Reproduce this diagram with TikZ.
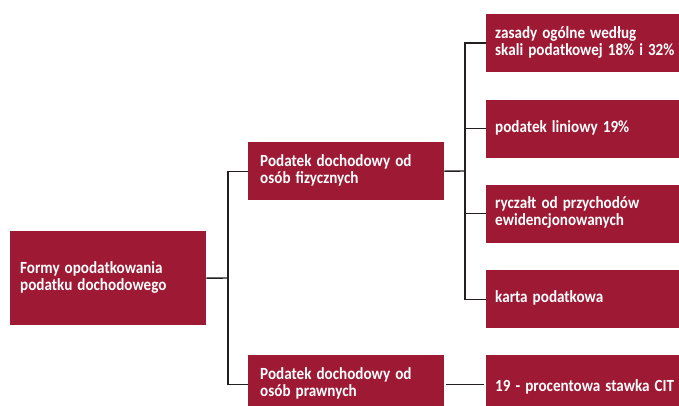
\documentclass[tikz,border=0pt]{standalone}
\usepackage{fontspec}
\usepackage{graphicx}
\setmainfont{Carlito}
\newcommand\bt[1]{\scalebox{0.89}[1]{\begin{tabular}{@{}l@{}}#1\end{tabular}}}
\definecolor{boxred}{RGB}{158,25,52}
\definecolor{linegray}{RGB}{35,31,32}
\tikzset{
  redbox/.style={fill=boxred, text=white, font=\bfseries\fontsize{17}{16}\selectfont,
    align=left, minimum height=58pt, inner ysep=0pt, anchor=north west},
  conn/.style={draw=linegray, line width=1.4pt}
}
\begin{document}
\begin{tikzpicture}[x=1pt,y=-1pt]
\useasboundingbox (0,0) rectangle (679,406);
\clip (0,0) rectangle (679,406);
% root
\node[redbox, inner xsep=10pt, text width=176pt, minimum height=94pt] (root) at (10,231) {\bt{Formy opodatkowania\\podatku dochodowego}};
% middle
\node[redbox, inner xsep=12pt, text width=172pt] (mid1) at (248,142) {\bt{Podatek dochodowy od\\osób fizycznych}};
\node[redbox, inner xsep=12pt, text width=172pt] (mid2) at (248,355) {\bt{Podatek dochodowy od\\osób prawnych}};
% right
\node[redbox, inner xsep=9pt, text width=200pt] (r1) at (486,14) {\bt{zasady ogólne według\\skali podatkowej 18\% i 32\%}};
\node[redbox, inner xsep=9pt, text width=200pt] (r2) at (486,99.5) {\bt{podatek liniowy 19\%}};
\node[redbox, inner xsep=9pt, text width=200pt] (r3) at (486,184.5) {\bt{ryczałt od przychodów\\ewidencjonowanych}};
\node[redbox, inner xsep=9pt, text width=200pt] (r4) at (486,270) {\bt{karta podatkowa}};
\node[redbox, inner xsep=9pt, text width=200pt, minimum height=66pt] (r5) at (486,355) {\bt{19 - procentowa stawka CIT}};
% junctions
\coordinate (b1) at (228,278);
\coordinate (b2) at (465,171);
\draw[conn] (root.east) -- (b1);
\draw[conn] (mid1.west) -| (b1) |- (mid2.west);
\draw[conn] (mid1.east) -- (b2);
\draw[conn] (r1.west) -| (b2) |- (r4.west);
\draw[conn] (r2.west) -- (r2.west -| b2);
\draw[conn] (r3.west) -- (r3.west -| b2);
\draw[conn, shorten <=2pt, shorten >=2pt] (mid2.east) -- (mid2.east -| r5.west);
\end{tikzpicture}
\end{document}
